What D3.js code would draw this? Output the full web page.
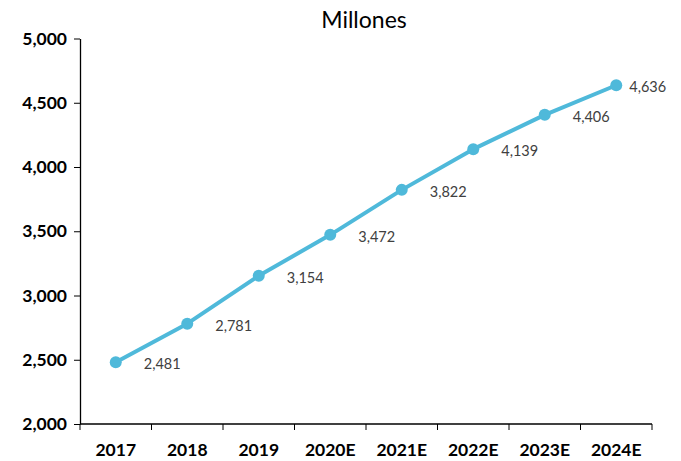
<!DOCTYPE html>
<html>
<head>
<meta charset="utf-8">
<script src="https://cdn.jsdelivr.net/npm/d3@7"></script>
<style>
  body { margin: 0; background: #fff; }
  text { font-family: Lato, "Open Sans", sans-serif; }
</style>
</head>
<body>
<div class="chart"></div>
<script>
var years = ["2017", "2018", "2019", "2020E", "2021E", "2022E", "2023E", "2024E"];
var values = [2481, 2781, 3154, 3472, 3822, 4139, 4406, 4636];
var yTicks = [2000, 2500, 3000, 3500, 4000, 4500, 5000];

var width = 681,
    height = 461,
    margin = {top: 38.5, right: 29, bottom: 37, left: 80};

var svg = d3.select(".chart")
  .append("svg")
    .attr("width", width)
    .attr("height", height);

var x = d3.scaleBand()
  .domain(years)
  .range([margin.left, width - margin.right]);

var y = d3.scaleLinear()
  .domain([2000, 5000])
  .range([height - margin.bottom, margin.top]);

// title
svg.append("text")
  .attr("x", 364)
  .attr("y", 28)
  .attr("text-anchor", "middle")
  .style("font-size", "23px")
  .style("fill", "#000")
  .text("Millones");

// y axis
var yAxis = svg.append("g")
  .attr("transform", "translate(" + margin.left + ",0)")
  .call(d3.axisLeft(y).tickValues(yTicks).tickFormat(d3.format(",")).tickSize(6).tickSizeOuter(0).tickPadding(7));
yAxis.selectAll("text")
  .style("font-size", "17.5px")
  .style("font-weight", "bold")
  .style("font-family", "Lato, sans-serif")
  .attr("fill", "#000");
yAxis.select(".domain").attr("stroke", "#000").attr("stroke-width", 1.3);
yAxis.selectAll(".tick line").attr("stroke", "#000");

// x axis, ticks between categories
var xAxis = svg.append("g")
  .attr("transform", "translate(0," + (height - margin.bottom) + ")");
xAxis.append("line")
  .attr("x1", margin.left).attr("x2", width - margin.right)
  .attr("stroke", "#000").attr("stroke-width", 1.3);
var edges = years.map(function(d) { return x(d); }).concat([x(years[years.length - 1]) + x.bandwidth()]);
xAxis.selectAll(".xt")
  .data(edges)
  .enter().append("line")
    .attr("x1", function(d) { return d; })
    .attr("x2", function(d) { return d; })
    .attr("y1", 0).attr("y2", 6)
    .attr("stroke", "#000");
xAxis.selectAll(".xl")
  .data(years)
  .enter().append("text")
    .attr("x", function(d) { return x(d) + x.bandwidth() / 2; })
    .attr("y", 32)
    .attr("text-anchor", "middle")
    .style("font-size", "17.5px")
    .style("font-weight", "bold")
    .attr("fill", "#000")
    .text(function(d) { return d; });

var cx = function(d, i) { return x(years[i]) + x.bandwidth() / 2; };

// line
var line = d3.line()
  .x(function(d, i) { return cx(d, i); })
  .y(function(d) { return y(d); });

svg.append("path")
  .datum(values)
  .attr("d", line)
  .attr("fill", "none")
  .attr("stroke", "#4FB9DA")
  .attr("stroke-width", 4)
  .attr("stroke-linejoin", "round");

svg.selectAll(".dot")
  .data(values)
  .enter().append("circle")
    .attr("cx", cx)
    .attr("cy", function(d) { return y(d); })
    .attr("r", 6)
    .attr("fill", "#4FB9DA");

// data labels
svg.selectAll(".lbl")
  .data(values)
  .enter().append("text")
    .attr("x", function(d, i) { return cx(d, i) + (i === values.length - 1 ? 13 : 28); })
    .attr("y", function(d) { return y(d) + 7; })
    .style("font-size", "14.5px")
    .attr("fill", "#404040")
    .text(d3.format(","));
</script>
</body>
</html>
